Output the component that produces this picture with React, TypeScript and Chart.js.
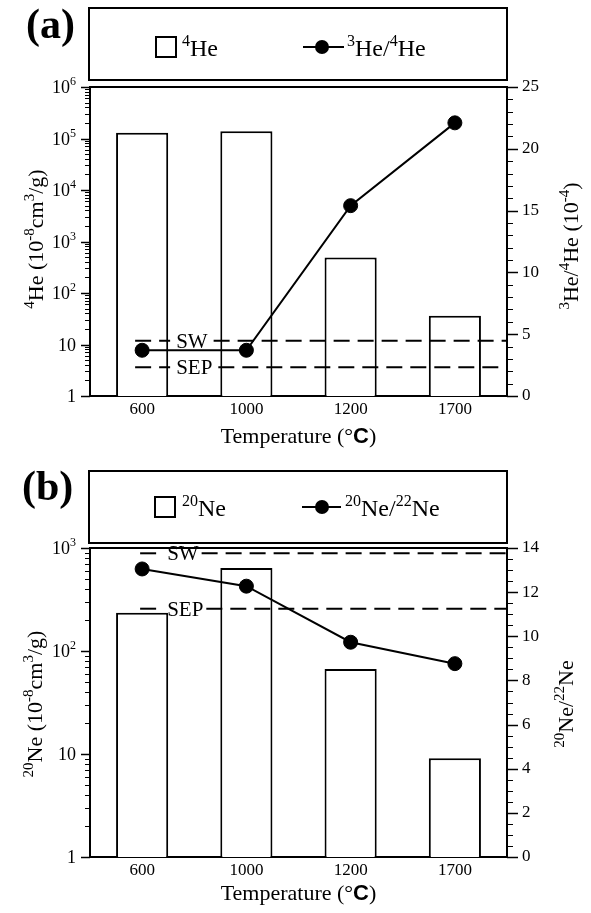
import React, { useEffect, useRef } from 'react';
import { Chart, registerables } from 'chart.js';

Chart.register(...registerables);

// ---------- data ----------
const temperatures = ['600', '1000', '1200', '1700'];

// panel (a)
const he4Amount = [130000, 138000, 490, 36];
const he3He4Ratio = [3.7, 3.7, 15.4, 22.1];
const he3He4SW = 4.47;
const he3He4SEP = 2.32;
const heLeftTicks = [1, 10, 100, 1000, 10000, 100000, 1000000];
const heLeftTickLabels = ['1', '10', '10²', '10³', '10⁴', '10⁵', '10⁶'];
const heRightTicks = [0, 5, 10, 15, 20, 25];

// panel (b)
const ne20Amount = [235, 640, 67, 9.1];
const ne20Ne22Ratio = [13.05, 12.27, 9.73, 8.76];
const ne20Ne22SW = 13.76;
const ne20Ne22SEP = 11.25;
const neLeftTicks = [1, 10, 100, 1000];
const neLeftTickLabels = ['1', '10', '10²', '10³'];
const neRightTicks = [0, 2, 4, 6, 8, 10, 12, 14];

// ---------- helpers ----------
const SERIF = '"Liberation Serif", "Times New Roman", serif';
const SANS = '"Liberation Sans", Arial, sans-serif';

type Part = { t: string; sup?: boolean; bold?: boolean; sans?: boolean };

const SUPS: Record<string, string> = {
  '⁰': '0', '¹': '1', '²': '2', '³': '3', '⁴': '4', '⁵': '5', '⁶': '6', '⁷': '7', '⁸': '8', '⁹': '9', '⁻': '-',
};
function toParts(s: string): Part[] {
  const out: Part[] = [];
  for (const ch of s) {
    const sup = ch in SUPS;
    const c = sup ? SUPS[ch] : ch;
    const last = out[out.length - 1];
    if (last && !!last.sup === sup) last.t += c;
    else out.push({ t: c, sup });
  }
  return out;
}

function partFont(p: Part, size: number) {
  const s = p.sup ? Math.round(size * 0.68) : size;
  return `${p.bold ? 'bold ' : ''}${s}px ${p.sans ? SANS : SERIF}`;
}
function richWidth(ctx: CanvasRenderingContext2D, parts: Part[], size: number) {
  let w = 0;
  for (const p of parts) {
    ctx.font = partFont(p, size);
    w += ctx.measureText(p.t).width;
  }
  return w;
}
function drawRich(ctx: CanvasRenderingContext2D, parts: Part[], x: number, y: number, size: number, align: 'left' | 'center' | 'right') {
  const w = richWidth(ctx, parts, size);
  let cx = align === 'center' ? x - w / 2 : align === 'right' ? x - w : x;
  ctx.textAlign = 'left';
  ctx.textBaseline = 'alphabetic';
  for (const p of parts) {
    ctx.font = partFont(p, size);
    ctx.fillText(p.t, cx, p.sup ? y - size * 0.42 : y);
    cx += ctx.measureText(p.t).width;
  }
}

function logMinors(max: number) {
  const out: number[] = [];
  for (let d = 1; d < max; d *= 10) for (let k = 2; k <= 9; k++) out.push(k * d);
  return out;
}
function linMinors(max: number, step: number) {
  const out: number[] = [];
  for (let v = 0; v <= max + 1e-9; v += step) out.push(+v.toFixed(3));
  return out;
}

interface PanelSpec {
  tag: string;
  amount: number[];
  ratio: number[];
  amountName: string;
  ratioName: string;
  amountLegend: Part[];
  ratioLegend: Part[];
  leftTitle: Part[];
  rightTitle: Part[];
  logMax: number;
  leftTicks: number[];
  leftTickLabels: string[];
  rightMax: number;
  rightTicks: number[];
  rightMinorStep: number;
  refs: { value: number; text: string }[];
  L: any;
}

const panelA: PanelSpec = {
  tag: '(a)',
  amount: he4Amount,
  ratio: he3He4Ratio,
  amountName: '⁴He',
  ratioName: '³He/⁴He',
  amountLegend: [{ t: '4', sup: true }, { t: 'He' }],
  ratioLegend: [{ t: '3', sup: true }, { t: 'He/' }, { t: '4', sup: true }, { t: 'He' }],
  leftTitle: [{ t: '4', sup: true }, { t: 'He (10' }, { t: '-8', sup: true }, { t: 'cm' }, { t: '3', sup: true }, { t: '/g)' }],
  rightTitle: [{ t: '3', sup: true }, { t: 'He/' }, { t: '4', sup: true }, { t: 'He (10' }, { t: '-4', sup: true }, { t: ')' }],
  logMax: 1000000,
  leftTicks: heLeftTicks,
  leftTickLabels: heLeftTickLabels,
  rightMax: 25,
  rightTicks: heRightTicks,
  rightMinorStep: 1,
  refs: [
    { value: he3He4SW, text: 'SW' },
    { value: he3He4SEP, text: 'SEP' },
  ],
  L: {
    height: 456, chartTop: 87, xAxisH: 60,
    legendTop: 8, legendBottom: 80, legendCy: 47,
    squareX: 156, amountTextX: 182, lineX1: 303, lineX2: 344, dotX: 322, ratioTextX: 347,
    tagX: 26, tagY: 38,
    leftTitleX: 43, leftTitleY: 239, rightTitleX: 578, rightTitleY: 246,
    xTitleDy: 47,
    refStart: -7, refGap: 28, refText: 34, refResume: 6,
  },
};

const panelB: PanelSpec = {
  tag: '(b)',
  amount: ne20Amount,
  ratio: ne20Ne22Ratio,
  amountName: '²⁰Ne',
  ratioName: '²⁰Ne/²²Ne',
  amountLegend: [{ t: '20', sup: true }, { t: 'Ne' }],
  ratioLegend: [{ t: '20', sup: true }, { t: 'Ne/' }, { t: '22', sup: true }, { t: 'Ne' }],
  leftTitle: [{ t: '20', sup: true }, { t: 'Ne (10' }, { t: '-8', sup: true }, { t: 'cm' }, { t: '3', sup: true }, { t: '/g)' }],
  rightTitle: [{ t: '20', sup: true }, { t: 'Ne/' }, { t: '22', sup: true }, { t: 'Ne' }],
  logMax: 1000,
  leftTicks: neLeftTicks,
  leftTickLabels: neLeftTickLabels,
  rightMax: 14,
  rightTicks: neRightTicks,
  rightMinorStep: 0.5,
  refs: [
    { value: ne20Ne22SW, text: 'SW' },
    { value: ne20Ne22SEP, text: 'SEP' },
  ],
  L: {
    height: 457, chartTop: 92, xAxisH: 56,
    legendTop: 15, legendBottom: 87, legendCy: 51,
    squareX: 155, amountTextX: 182, lineX1: 302, lineX2: 341, dotX: 322, ratioTextX: 345,
    tagX: 22, tagY: 44,
    leftTitleX: 42, leftTitleY: 248, rightTitleX: 573, rightTitleY: 248,
    xTitleDy: 43,
    refStart: -2, refGap: 22, refText: 25, refResume: 3,
  },
};

function makePlugin(spec: PanelSpec) {
  const L = spec.L;
  return {
    id: 'decor' + spec.tag,
    afterDraw(chart: any) {
      const ctx: CanvasRenderingContext2D = chart.ctx;
      const ca = chart.chartArea;
      const xs = chart.scales.x;
      const yl = chart.scales.y;
      const yr = chart.scales.y2;
      ctx.save();
      ctx.fillStyle = '#000';
      ctx.strokeStyle = '#000';

      // top frame line
      ctx.lineWidth = 2;
      ctx.beginPath();
      ctx.moveTo(ca.left - 1, ca.top);
      ctx.lineTo(ca.right + 1, ca.top);
      ctx.stroke();

      // tick marks
      const tick = (scale: any, v: number, len: number, side: number, w: number) => {
        const y = scale.getPixelForValue(v);
        if (y < ca.top - 1 || y > ca.bottom + 1) return;
        const x = side < 0 ? ca.left : ca.right;
        ctx.lineWidth = w;
        ctx.beginPath();
        ctx.moveTo(x, Math.round(y) + 0.5);
        ctx.lineTo(x + side * len, Math.round(y) + 0.5);
        ctx.stroke();
      };
      yl.ticks.forEach((t: any) => tick(yl, t.value, 9, -1, 1.5));
      logMinors(spec.logMax).forEach((v) => tick(yl, v, 5, -1, 1));
      yr.ticks.forEach((t: any) => tick(yr, t.value, 11, 1, 1.5));
      linMinors(spec.rightMax, spec.rightMinorStep).forEach((v) => tick(yr, v, 6, 1, 1));

      // left log tick labels with real superscripts
      yl.ticks.forEach((t: any, i: number) => {
        const y = yl.getPixelForValue(t.value);
        drawRich(ctx, toParts(spec.leftTickLabels[i]), ca.left - 14, y + 6, 18, 'right');
      });

      // reference lines (SW / SEP)
      const x0 = xs.getPixelForValue(0);
      for (const r of spec.refs) {
        const y = yr.getPixelForValue(r.value);
        ctx.font = `21px ${SERIF}`;
        const tx = x0 + L.refText;
        const tw = ctx.measureText(r.text).width;
        ctx.lineWidth = 2;
        ctx.setLineDash([16, 8]);
        ctx.beginPath();
        ctx.moveTo(x0 + L.refStart, y);
        ctx.lineTo(x0 + L.refGap, y);
        ctx.stroke();
        ctx.beginPath();
        ctx.moveTo(tx + tw + L.refResume, y);
        ctx.lineTo(ca.right, y);
        ctx.stroke();
        ctx.setLineDash([]);
        ctx.textAlign = 'left';
        ctx.textBaseline = 'alphabetic';
        ctx.fillText(r.text, tx, y + 7);
      }

      // legend box
      ctx.lineWidth = 2;
      ctx.strokeRect(ca.left - 1, L.legendTop, ca.right - ca.left + 1, L.legendBottom - L.legendTop);
      const cy = L.legendCy;
      ctx.fillStyle = '#fff';
      ctx.fillRect(L.squareX, cy - 10, 20, 20);
      ctx.strokeRect(L.squareX, cy - 10, 20, 20);
      ctx.fillStyle = '#000';
      drawRich(ctx, spec.amountLegend, L.amountTextX, cy + 9, 24, 'left');
      ctx.beginPath();
      ctx.moveTo(L.lineX1, cy);
      ctx.lineTo(L.lineX2, cy);
      ctx.stroke();
      ctx.beginPath();
      ctx.arc(L.dotX, cy, 7, 0, Math.PI * 2);
      ctx.fill();
      drawRich(ctx, spec.ratioLegend, L.ratioTextX, cy + 9, 24, 'left');

      // panel tag
      ctx.font = `bold 42px ${SERIF}`;
      ctx.textAlign = 'left';
      ctx.textBaseline = 'alphabetic';
      ctx.fillText(spec.tag, L.tagX, L.tagY);

      // axis titles
      drawRich(
        ctx,
        [{ t: 'Temperature (°' }, { t: 'C', bold: true, sans: true }, { t: ')' }],
        (ca.left + ca.right) / 2,
        ca.bottom + L.xTitleDy,
        22,
        'center',
      );
      ctx.save();
      ctx.translate(L.leftTitleX, L.leftTitleY);
      ctx.rotate(-Math.PI / 2);
      drawRich(ctx, spec.leftTitle, 0, 0, 22, 'center');
      ctx.restore();
      ctx.save();
      ctx.translate(L.rightTitleX, L.rightTitleY);
      ctx.rotate(-Math.PI / 2);
      drawRich(ctx, spec.rightTitle, 0, 0, 22, 'center');
      ctx.restore();

      ctx.restore();
    },
  };
}

function makeConfig(spec: PanelSpec): any {
  const L = spec.L;
  const tickFont = { family: SERIF, size: 17 };
  return {
    type: 'bar',
    data: {
      labels: temperatures,
      datasets: [
        {
          type: 'line',
          label: spec.ratioName,
          data: spec.ratio,
          yAxisID: 'y2',
          borderColor: '#000',
          backgroundColor: '#000',
          borderWidth: 2,
          pointRadius: 7,
          pointHoverRadius: 7,
          pointBackgroundColor: '#000',
          pointBorderColor: '#000',
          pointBorderWidth: 1,
          tension: 0,
          fill: false,
          order: 0,
        },
        {
          type: 'bar',
          label: spec.amountName,
          data: spec.amount,
          yAxisID: 'y',
          backgroundColor: '#fff',
          borderColor: '#000',
          borderWidth: 2,
          barPercentage: 0.5,
          categoryPercentage: 1,
          order: 1,
        },
      ],
    },
    options: {
      animation: false,
      responsive: false,
      maintainAspectRatio: false,
      events: [],
      layout: { padding: { top: L.chartTop, left: 0, right: 0, bottom: 0 } },
      plugins: { legend: { display: false }, tooltip: { enabled: false }, title: { display: false } },
      scales: {
        x: {
          type: 'category',
          grid: { display: false, drawTicks: false },
          border: { display: true, color: '#000', width: 2 },
          ticks: { color: '#000', font: tickFont, padding: 3, maxRotation: 0, autoSkip: false },
          afterFit: (s: any) => {
            s.height = L.xAxisH;
          },
        },
        y: {
          type: 'logarithmic',
          position: 'left',
          min: 1,
          max: spec.logMax,
          afterBuildTicks: (s: any) => {
            s.ticks = spec.leftTicks.map((v) => ({ value: v, major: true }));
          },
          ticks: { display: false },
          grid: { display: false, drawTicks: false },
          border: { display: true, color: '#000', width: 2 },
          afterFit: (s: any) => {
            s.width = 90;
          },
        },
        y2: {
          type: 'linear',
          position: 'right',
          min: 0,
          max: spec.rightMax,
          afterBuildTicks: (s: any) => {
            s.ticks = spec.rightTicks.map((v) => ({ value: v }));
          },
          ticks: { color: '#000', font: tickFont, padding: 3, autoSkip: false, callback: (v: any) => String(v) },
          grid: { display: false, drawTicks: true, tickLength: 12 },
          border: { display: true, color: '#000', width: 2 },
          afterFit: (s: any) => {
            s.width = 84;
          },
        },
      },
    },
    plugins: [makePlugin(spec)],
  };
}

function Panel({ spec }: { spec: PanelSpec }) {
  const ref = useRef<HTMLCanvasElement>(null);
  useEffect(() => {
    const chart = new Chart(ref.current as HTMLCanvasElement, makeConfig(spec));
    return () => chart.destroy();
  }, [spec]);
  return (
    <canvas
      ref={ref}
      width={591}
      height={spec.L.height}
      style={{ display: 'block', width: 591, height: spec.L.height }}
    />
  );
}

export default function App() {
  return (
    <div style={{ position: 'absolute', left: 0, top: 0, width: 591, height: 913, background: '#fff' }}>
      <Panel spec={panelA} />
      <Panel spec={panelB} />
    </div>
  );
}
